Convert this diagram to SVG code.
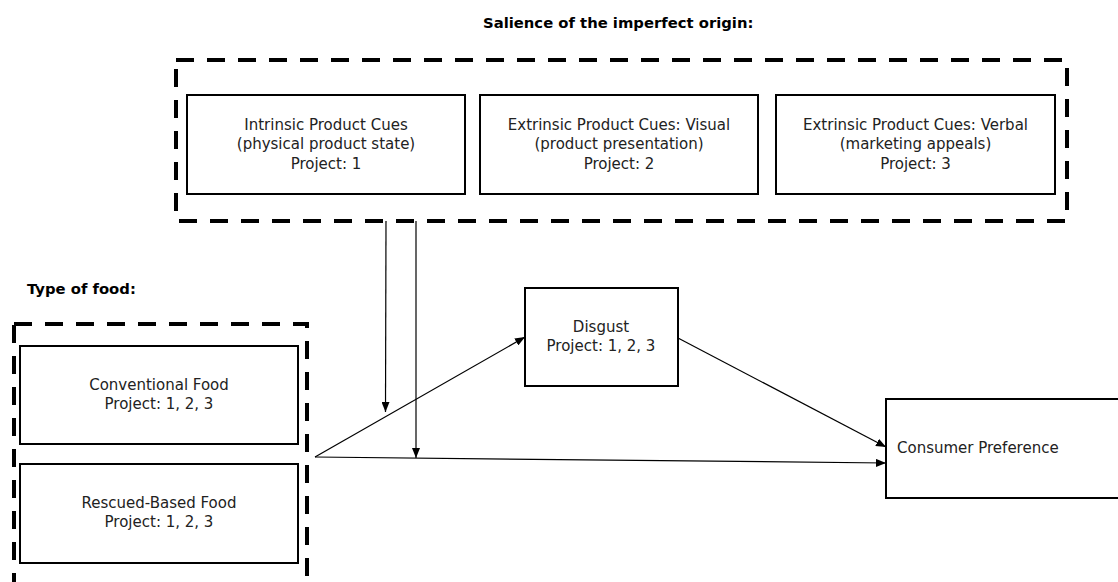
<svg xmlns="http://www.w3.org/2000/svg" width="1118" height="582" viewBox="0 0 1118 582">
<defs>
<marker id="ah" viewBox="0 0 10 8" refX="10" refY="4" markerWidth="10" markerHeight="8" markerUnits="userSpaceOnUse" orient="auto">
<path d="M0,0 L10,4 L0,8 Z" fill="#000"/>
</marker>
<style>
.box{fill:#fff;stroke:#000;stroke-width:2}
.grp{fill:none;stroke:#000;stroke-width:4;stroke-dasharray:18 13}
.t{font-family:"DejaVu Sans","Verdana",sans-serif;font-size:15px;fill:#222}
.c{text-anchor:middle}
.h{font-family:"DejaVu Sans","Verdana",sans-serif;font-size:14.8px;font-weight:bold;fill:#000}
.ln{fill:none;stroke:#000;stroke-width:1.2;marker-end:url(#ah)}
</style>
</defs>
<rect width="1118" height="582" fill="#fff"/>
<text class="h" x="483" y="28">Salience of the imperfect origin:</text>
<text class="h" x="27" y="294">Type of food:</text>
<g id="salience-group">
<rect class="grp" x="176" y="60" width="891" height="161"/>
</g>
<g id="food-group">
<rect class="grp" x="14" y="324" width="293" height="290"/>
</g>
<g id="intrinsic">
<rect class="box" x="187" y="95" width="278" height="99"/>
<text class="t c" x="326" y="130">Intrinsic Product Cues</text>
<text class="t c" x="326" y="149">(physical product state)</text>
<text class="t c" x="326" y="169">Project: 1</text>
</g>
<g id="visual">
<rect class="box" x="480" y="95" width="278" height="99"/>
<text class="t c" x="619" y="130">Extrinsic Product Cues: Visual</text>
<text class="t c" x="619" y="149">(product presentation)</text>
<text class="t c" x="619" y="169">Project: 2</text>
</g>
<g id="verbal">
<rect class="box" x="776" y="95" width="279" height="99"/>
<text class="t c" x="915.5" y="130">Extrinsic Product Cues: Verbal</text>
<text class="t c" x="915.5" y="149">(marketing appeals)</text>
<text class="t c" x="915.5" y="169">Project: 3</text>
</g>
<g id="conventional">
<rect class="box" x="20" y="346" width="278" height="98"/>
<text class="t c" x="159" y="390">Conventional Food</text>
<text class="t c" x="159" y="409">Project: 1, 2, 3</text>
</g>
<g id="rescued">
<rect class="box" x="20" y="464" width="278" height="99"/>
<text class="t c" x="159" y="508">Rescued-Based Food</text>
<text class="t c" x="159" y="527">Project: 1, 2, 3</text>
</g>
<g id="disgust">
<rect class="box" x="525" y="288" width="153" height="98"/>
<text class="t c" x="601" y="332">Disgust</text>
<text class="t c" x="601" y="351">Project: 1, 2, 3</text>
</g>
<g id="preference">
<rect class="box" x="886" y="399" width="240" height="99"/>
<text class="t" x="897" y="453">Consumer Preference</text>
</g>
<g id="connectors">
<path class="ln" d="M386,221 L385.5,412"/>
<path class="ln" d="M416,221 L416,458"/>
<path class="ln" d="M315,457 L525,337"/>
<path class="ln" d="M315,457 L886,463"/>
<path class="ln" d="M678,338 L886,447"/>
</g>
</svg>
